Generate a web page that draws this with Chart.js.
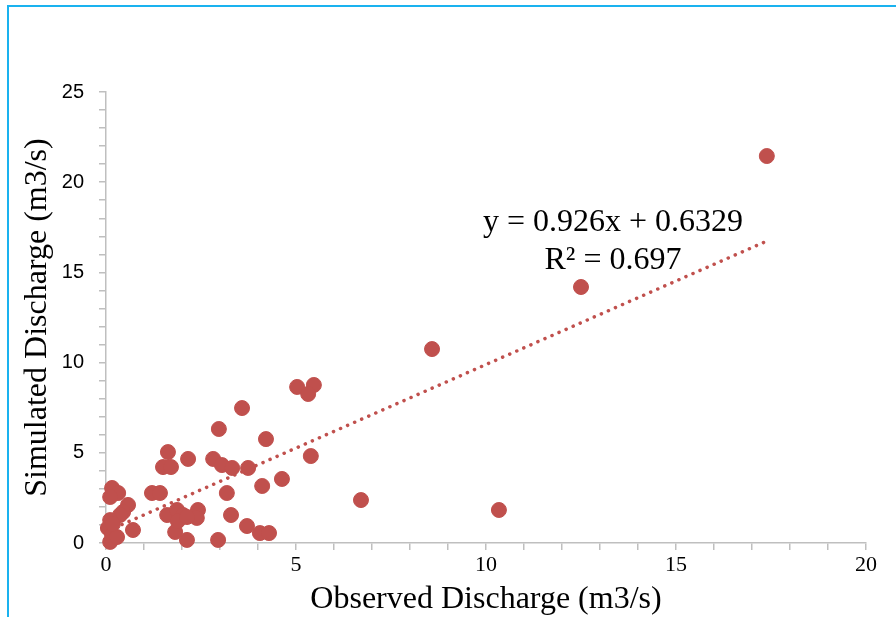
<!DOCTYPE html>
<html>
<head>
<meta charset="utf-8">
<script src="https://cdn.jsdelivr.net/npm/chart.js@4"></script>
<style>
    body { margin: 0; background: #fff; }
    #wrap { position: relative; width: 896px; height: 617px; }
    #frame {
        position: absolute; left: 7px; top: 5px; right: 0; bottom: 0;
        border-left: 2px solid #1AB2EF; border-top: 2px solid #1AB2EF;
        pointer-events: none;
    }
</style>
</head>
<body>
<div id="wrap">
    <canvas id="scatterChart" width="896" height="617"></canvas>
    <div id="frame"></div>
</div>
<script>
// Observed vs simulated discharge (m3/s)
const observed = [
    17.39, 12.50, 8.58, 5.03, 5.47, 5.32, 3.58, 2.97, 4.21, 5.39,
    4.63, 6.71, 10.34, 1.63, 1.50, 1.71, 2.16, 2.82, 3.05, 3.32,
    3.74, 4.11, 3.18, 1.21, 1.42, 3.29, 3.71, 4.05, 4.29, 2.95,
    2.13, 1.82, 1.61, 1.87, 2.03, 2.42, 2.39, 1.89, 2.13, 0.16,
    0.32, 0.11, 0.58, 0.45, 0.37, 0.11, 0.05, 0.71, 0.16, 0.11,
    0.29, 0.18
];
const simulated = [
    21.45, 14.19, 10.75, 8.65, 8.76, 8.26, 7.48, 6.32, 5.76, 4.82,
    3.55, 2.38, 1.83, 5.04, 4.21, 4.21, 4.66, 4.66, 4.32, 4.16,
    4.16, 3.16, 2.77, 2.77, 2.77, 1.55, 0.94, 0.55, 0.55, 0.17,
    0.17, 0.61, 1.55, 1.83, 1.55, 1.83, 1.39, 1.22, 1.44, 3.05,
    2.77, 2.55, 2.11, 1.72, 1.55, 1.27, 0.83, 0.72, 0.44, 0.06,
    0.33, 1.05
];

// Linear trendline from the printed equation
const slope = 0.926;
const intercept = 0.6329;
const rSquared = 0.697;

const xTicks = [0, 5, 10, 15, 20];
const yTicks = [0, 5, 10, 15, 20, 25];

const red = '#C0504D';
const axisGray = '#BFBFBF';
const serif = '"Liberation Serif", "Times New Roman", serif';

const points = observed.map((x, i) => ({ x: x, y: simulated[i] }));
const xMin = Math.min(...observed);
const xMax = Math.max(...observed);
const trend = [xMin, xMax].map(x => ({ x: x, y: slope * x + intercept }));

// Equation label, like the one Excel puts beside the trendline
const equationLabel = {
    id: 'equationLabel',
    afterDraw(chart) {
        const ctx = chart.ctx;
        const area = chart.chartArea;
        ctx.save();
        ctx.fillStyle = '#000';
        ctx.font = '32px ' + serif;
        ctx.textAlign = 'center';
        ctx.textBaseline = 'middle';
        const cx = area.left + 507;
        ctx.fillText('y = ' + slope + 'x + ' + intercept, cx, area.top + 131);
        ctx.fillText('R\u00B2 = ' + rSquared, cx, area.top + 169);
        ctx.restore();
    }
};

const ctx = document.getElementById('scatterChart').getContext('2d');
const chart = new Chart(ctx, {
    type: 'scatter',
    data: {
        datasets: [
            {
                data: points,
                backgroundColor: red,
                borderColor: red,
                borderWidth: 1,
                pointRadius: 7.5,
                pointHoverRadius: 7.5,
                clip: false,
                order: 1
            },
            {
                type: 'line',
                data: trend,
                borderColor: red,
                borderWidth: 3.5,
                borderDash: [0.1, 7.6],
                borderCapStyle: 'round',
                pointRadius: 0,
                fill: false,
                order: 2
            }
        ]
    },
    options: {
        responsive: false,
        animation: false,
        layout: {
            padding: { left: 0, top: 92, right: 30, bottom: 0 }
        },
        plugins: {
            legend: { display: false },
            tooltip: { enabled: false }
        },
        scales: {
            x: {
                type: 'linear',
                min: 0,
                max: 20,
                afterFit: function(scale) { scale.height = 74; },
                border: { color: axisGray, width: 1.5 },
                grid: {
                    drawOnChartArea: false,
                    drawTicks: true,
                    tickLength: 7,
                    color: axisGray,
                    lineWidth: 1.5
                },
                ticks: {
                    stepSize: 1,
                    autoSkip: false,
                    maxRotation: 0,
                    padding: 2,
                    color: '#000',
                    font: { family: serif, size: 22 },
                    callback: v => xTicks.includes(v) ? String(v) : ''
                },
                title: {
                    display: true,
                    text: 'Observed Discharge (m3/s)',
                    color: '#000',
                    font: { family: serif, size: 32, lineHeight: 1.1 },
                    padding: { top: 0, bottom: 0 }
                }
            },
            y: {
                type: 'linear',
                min: 0,
                max: 25,
                afterFit: function(scale) { scale.width = 106; },
                border: { color: axisGray, width: 1.5 },
                grid: {
                    drawOnChartArea: false,
                    drawTicks: true,
                    tickLength: 7,
                    color: axisGray,
                    lineWidth: 1.5
                },
                ticks: {
                    stepSize: 1,
                    autoSkip: false,
                    padding: 15,
                    color: '#000',
                    font: { family: '"Liberation Sans", Arial, sans-serif', size: 20 },
                    callback: v => yTicks.includes(v) ? String(v) : ''
                },
                title: {
                    display: true,
                    text: 'Simulated Discharge (m3/s)',
                    color: '#000',
                    font: { family: serif, size: 32, lineHeight: 1.1 },
                    padding: { top: 20, bottom: 0 }
                }
            }
        }
    },
    plugins: [equationLabel]
});
</script>
</body>
</html>
